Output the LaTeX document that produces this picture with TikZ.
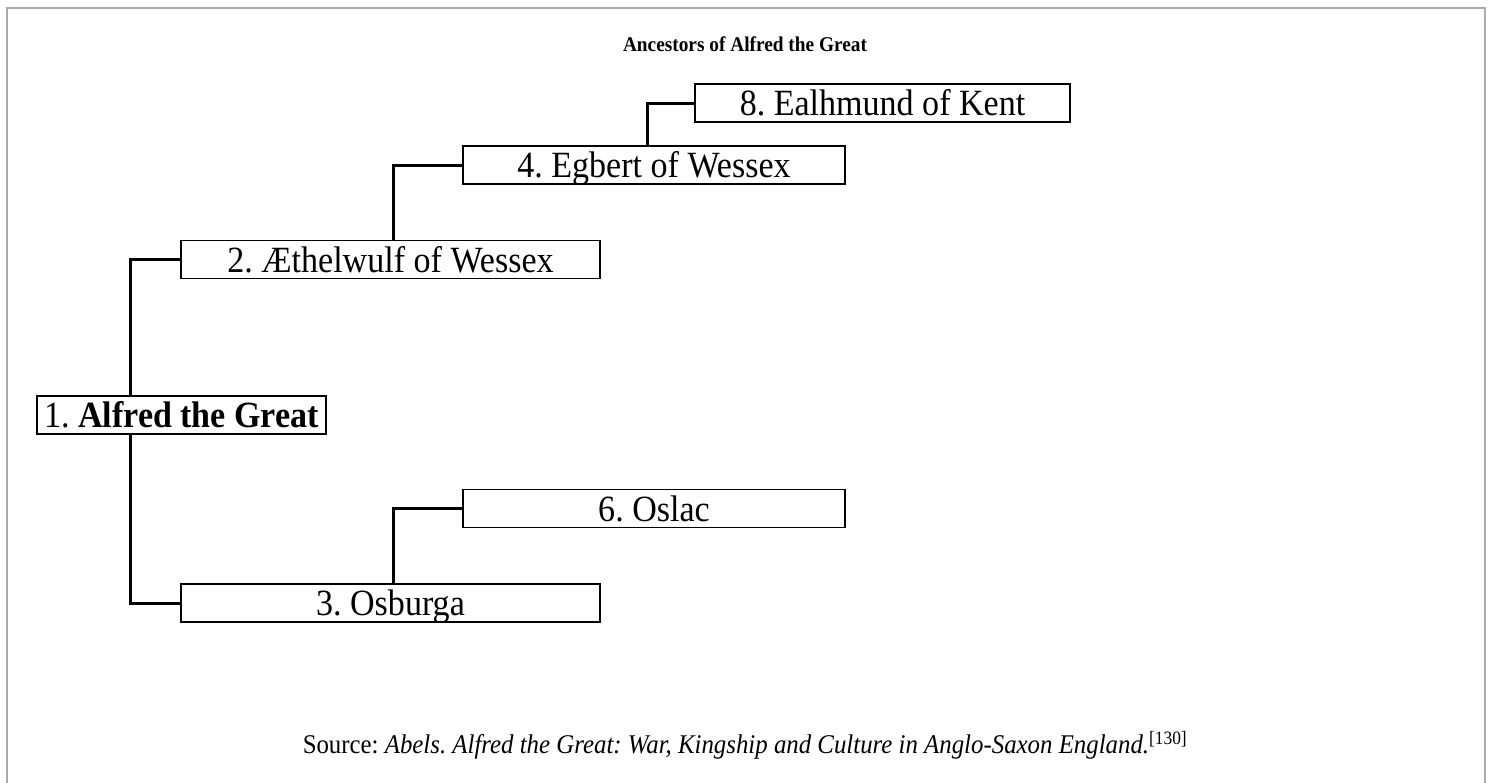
\documentclass[tikz,border=0pt]{standalone}
\usepackage{fontspec}
\setmainfont{Liberation Serif}[FakeStretch=0.92]
\begin{document}
\frenchspacing
\begin{tikzpicture}[x=1pt,y=-1pt,
  pbox/.style={draw, line width=1.5pt, minimum height=38pt, inner sep=0pt, anchor=center,
    text height=25pt, text depth=0pt, font=\fontsize{37}{40}\selectfont},
  link/.style={line width=3pt},
  frameline/.style={draw=black!33, line width=2pt}]
\useasboundingbox (0,0) rectangle (1491,782);
\draw[frameline] (7,790) -- (7,8) -- (1485,8) -- (1485,790);
\node[font=\fontsize{21}{25}\selectfont\bfseries] (title) at (745,44) {Ancestors of Alfred the Great};
\node[pbox, minimum width=375pt] (p8) at (882.5,103) {8. Ealhmund of Kent};
\node[pbox, minimum width=382pt] (p4) at (654,165) {4. Egbert of Wessex};
\node[pbox, minimum width=419pt] (p2) at (390.5,259.5) {2. Æthelwulf of Wessex};
\node[pbox, minimum width=289pt] (p1) at (181.5,415) {1. \textbf{Alfred the Great}};
\node[pbox, minimum width=382pt] (p6) at (654,508.5) {6. Oslac};
\node[pbox, minimum width=419pt] (p3) at (390.5,603) {3. Osburga};
\node[font=\fontsize{27}{31}\selectfont] (src) at (745,745) {Source: \textit{Abels. Alfred the Great: War, Kingship and Culture in Anglo-Saxon England.}\textsuperscript{[130]}};
\draw[link] ([xshift=-51.5pt]p1.north) |- (p2.west);
\draw[link] ([xshift=-51.5pt]p1.south) |- (p3.west);
\draw[link] ([xshift=2.5pt]p2.north) |- (p4.west);
\draw[link] ([xshift=2.5pt]p3.north) |- (p6.west);
\draw[link] ([xshift=-7pt]p4.north) |- (p8.west);
\end{tikzpicture}
\end{document}
